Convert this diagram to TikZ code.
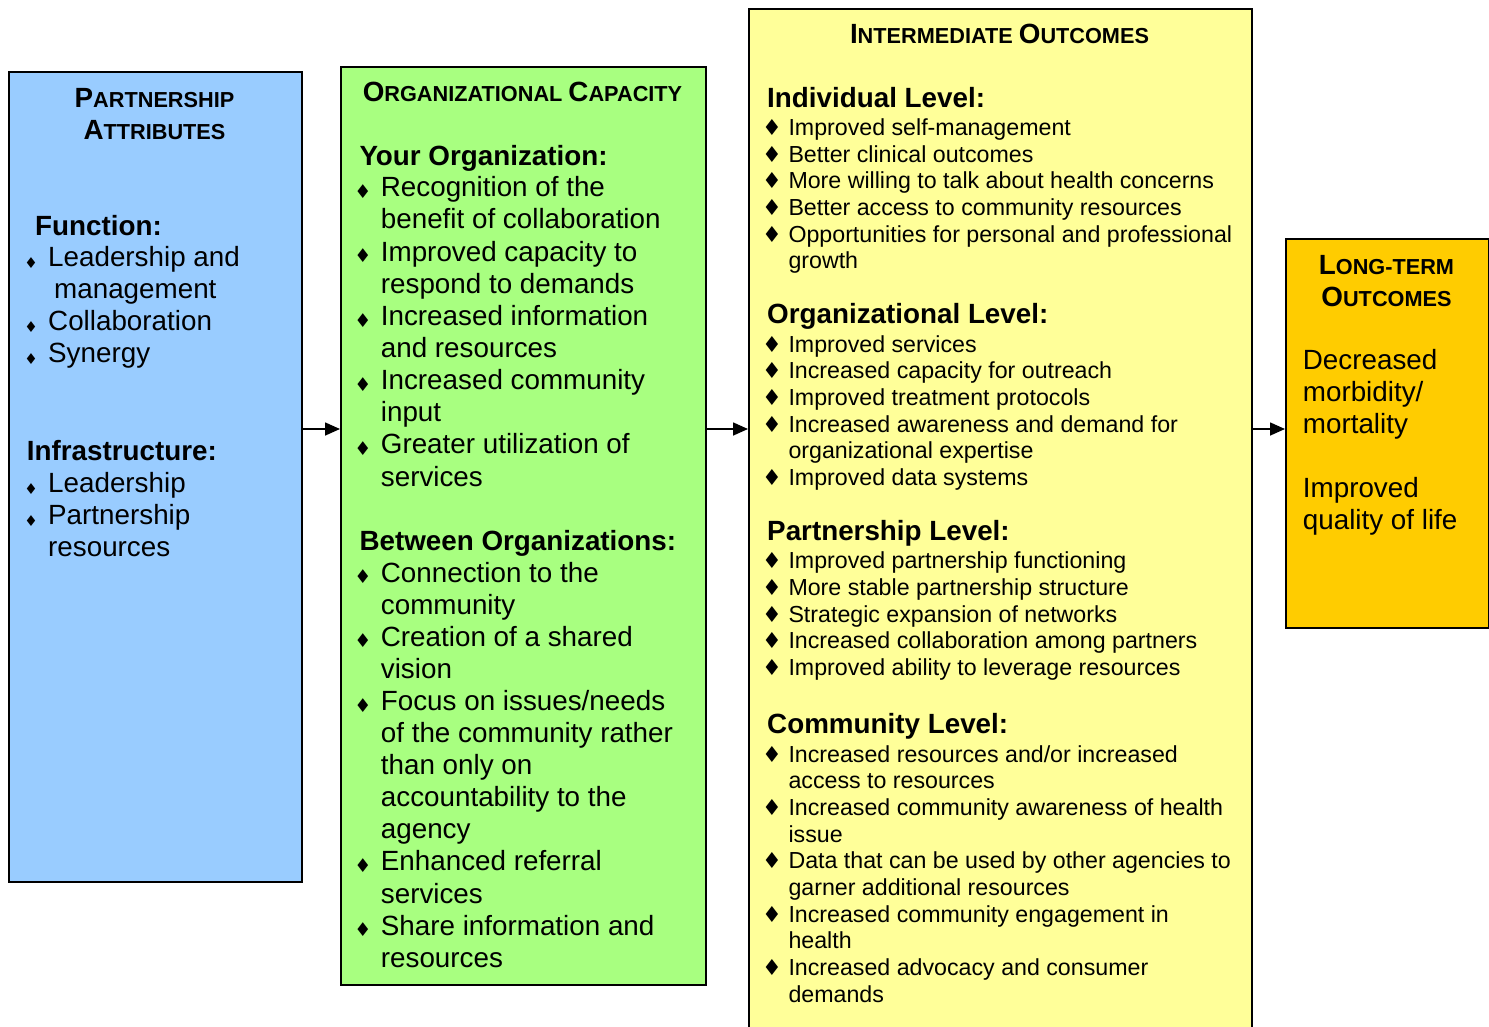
\documentclass[tikz,border=0pt]{standalone}
\usepackage{fontspec}
\setmainfont{Liberation Sans}
\newfontfamily\dejavu{DejaVu Sans}
\usetikzlibrary{arrows.meta}
\definecolor{pblue}{HTML}{99CCFF}
\definecolor{pgreen}{HTML}{A8FF80}
\definecolor{pyellow}{HTML}{FFFF99}
\definecolor{porange}{HTML}{FFCC00}
\newlength\bind
\newlength\braise
\newcommand\bulsize{12}
\newcommand{\bitem}[1]{\par\hangindent=\bind\hangafter=1\noindent\makebox[\bind][l]{\makebox[0pt][c]{\raisebox{\braise}{\dejavu\fontsize{\bulsize}{\bulsize}\selectfont ♦}}}#1}
\newcommand{\blist}[6]{\vtop{\hsize=600pt\parindent=0pt\lineskiplimit=-200pt\fontsize{#1}{#2}\selectfont\setlength\bind{#3}\renewcommand\bulsize{#4}\setlength\braise{#5}#6\par}}
\newcommand{\fsc}[2]{{\fontsize{27.8}{32}\selectfont\bfseries #1}{\fontsize{21.7}{32}\selectfont\bfseries #2}}
\newcommand{\plain}[1]{\vtop{\hsize=600pt\parindent=0pt\lineskiplimit=-200pt\fontsize{27.8}{32}\selectfont #1\par}}
\tikzset{
  box/.style={draw=black, line width=1.6pt, inner sep=0pt, anchor=north west},
  ttl/.style={anchor=base, inner sep=0pt},
  hd/.style={anchor=base west, inner sep=0pt, font=\fontsize{27.8}{32}\selectfont\bfseries},
  lst/.style={anchor=base west, inner sep=0pt},
  arr/.style={line width=1.6pt, -{Triangle[length=15pt,width=13pt]}}
}
\begin{document}
\begin{tikzpicture}[x=1pt,y=-1pt]
\useasboundingbox (0,0) rectangle (1489,1026);
% boxes
\node[box, fill=pblue, minimum width=293pt, minimum height=810pt] (blue) at (8,71) {};
\node[box, fill=pgreen, minimum width=365pt, minimum height=918pt] (green) at (340,66) {};
\node[box, fill=pyellow, minimum width=503pt, minimum height=1040pt] (yellow) at (748,8) {};
\node[box, fill=porange, minimum width=203pt, minimum height=389pt] (orange) at (1285,238) {};
% arrows
\coordinate (ay) at (0,429);
\draw[arr] (blue.east |- ay) -- (green.west |- ay);
\draw[arr] (green.east |- ay) -- (yellow.west |- ay);
\draw[arr] (yellow.east |- ay) -- (orange.west |- ay);
\begin{scope}[yshift=-1pt]
% blue box
\node[ttl] (bt1) at (154.5,106.5) {\fsc{P}{ARTNERSHIP}};
\node[ttl] (bt2) at (154.5,138.5) {\fsc{A}{TTRIBUTES}};
\node[hd] (bh1) at (35,234.3) {Function:};
\node[lst] (bl1) at (31,265.7) {\blist{27.8}{32}{17pt}{15}{-2pt}{%
  \bitem{Leadership and\\\hspace*{6pt}management}
  \bitem{Collaboration}
  \bitem{Synergy}}};
\node[hd] (bh2) at (26.7,459) {Infrastructure:};
\node[lst] (bl2) at (31,491) {\blist{27.8}{32}{17pt}{15}{-2pt}{%
  \bitem{Leadership}
  \bitem{Partnership\\resources}}};
% green box
\node[ttl] (gt1) at (522.5,100.5) {\fsc{O}{RGANIZATIONAL }\fsc{C}{APACITY}};
\node[hd] (gh1) at (359.3,164.3) {Your Organization:};
\node[lst] (gl1) at (362.7,195.7) {\blist{27.8}{32.15}{18pt}{19}{-1.7pt}{%
  \bitem{Recognition of the\\benefit of collaboration}
  \bitem{Improved capacity to\\respond to demands}
  \bitem{Increased information\\and resources}
  \bitem{Increased community\\input}
  \bitem{Greater utilization of\\services}}};
\node[hd] (gh2) at (359.3,549) {Between Organizations:};
\node[lst] (gl2) at (362.7,581) {\blist{27.8}{32.1}{18pt}{19}{-1.7pt}{%
  \bitem{Connection to the\\community}
  \bitem{Creation of a shared\\vision}
  \bitem{Focus on issues/needs\\of the community rather\\than only on\\accountability to the\\agency}
  \bitem{Enhanced referral\\services}
  \bitem{Share information and\\resources}}};
% yellow box
\node[ttl] (yt1) at (999.5,42.5) {\fsc{I}{NTERMEDIATE }\fsc{O}{UTCOMES}};
\node[hd] (yh1) at (767,106.7) {Individual Level:};
\node[lst] (yl1) at (771.7,134.3) {\blist{23.2}{26.7}{16.6pt}{22}{0pt}{%
  \bitem{Improved self-management}
  \bitem{Better clinical outcomes}
  \bitem{More willing to talk about health concerns}
  \bitem{Better access to community resources}
  \bitem{Opportunities for personal and professional\\growth}}};
\node[hd] (yh2) at (767,322.3) {Organizational Level:};
\node[lst] (yl2) at (771.7,351) {\blist{23.2}{26.7}{16.6pt}{22}{0pt}{%
  \bitem{Improved services}
  \bitem{Increased capacity for outreach}
  \bitem{Improved treatment protocols}
  \bitem{Increased awareness and demand for\\organizational expertise}
  \bitem{Improved data systems}}};
\node[hd] (yh3) at (767,539.3) {Partnership Level:};
\node[lst] (yl3) at (771.7,567.7) {\blist{23.2}{26.7}{16.6pt}{22}{0pt}{%
  \bitem{Improved partnership functioning}
  \bitem{More stable partnership structure}
  \bitem{Strategic expansion of networks}
  \bitem{Increased collaboration among partners}
  \bitem{Improved ability to leverage resources}}};
\node[hd] (yh4) at (767,732.3) {Community Level:};
\node[lst] (yl4) at (771.7,761) {\blist{23.2}{26.7}{16.6pt}{22}{0pt}{%
  \bitem{Increased resources and/or increased\\access to resources}
  \bitem{Increased community awareness of health\\issue}
  \bitem{Data that can be used by other agencies to\\garner additional resources}
  \bitem{Increased community engagement in\\health}
  \bitem{Increased advocacy and consumer\\demands}}};
% orange box
\node[ttl] (ot1) at (1386.5,273.5) {\fsc{L}{ONG-TERM}};
\node[ttl] (ot2) at (1386.5,305) {\fsc{O}{UTCOMES}};
\node[lst] (ol1) at (1302.7,368.5) {\plain{Decreased\\morbidity/\\mortality\\\mbox{}\\Improved\\quality of life}};
\end{scope}
\end{tikzpicture}
\end{document}
